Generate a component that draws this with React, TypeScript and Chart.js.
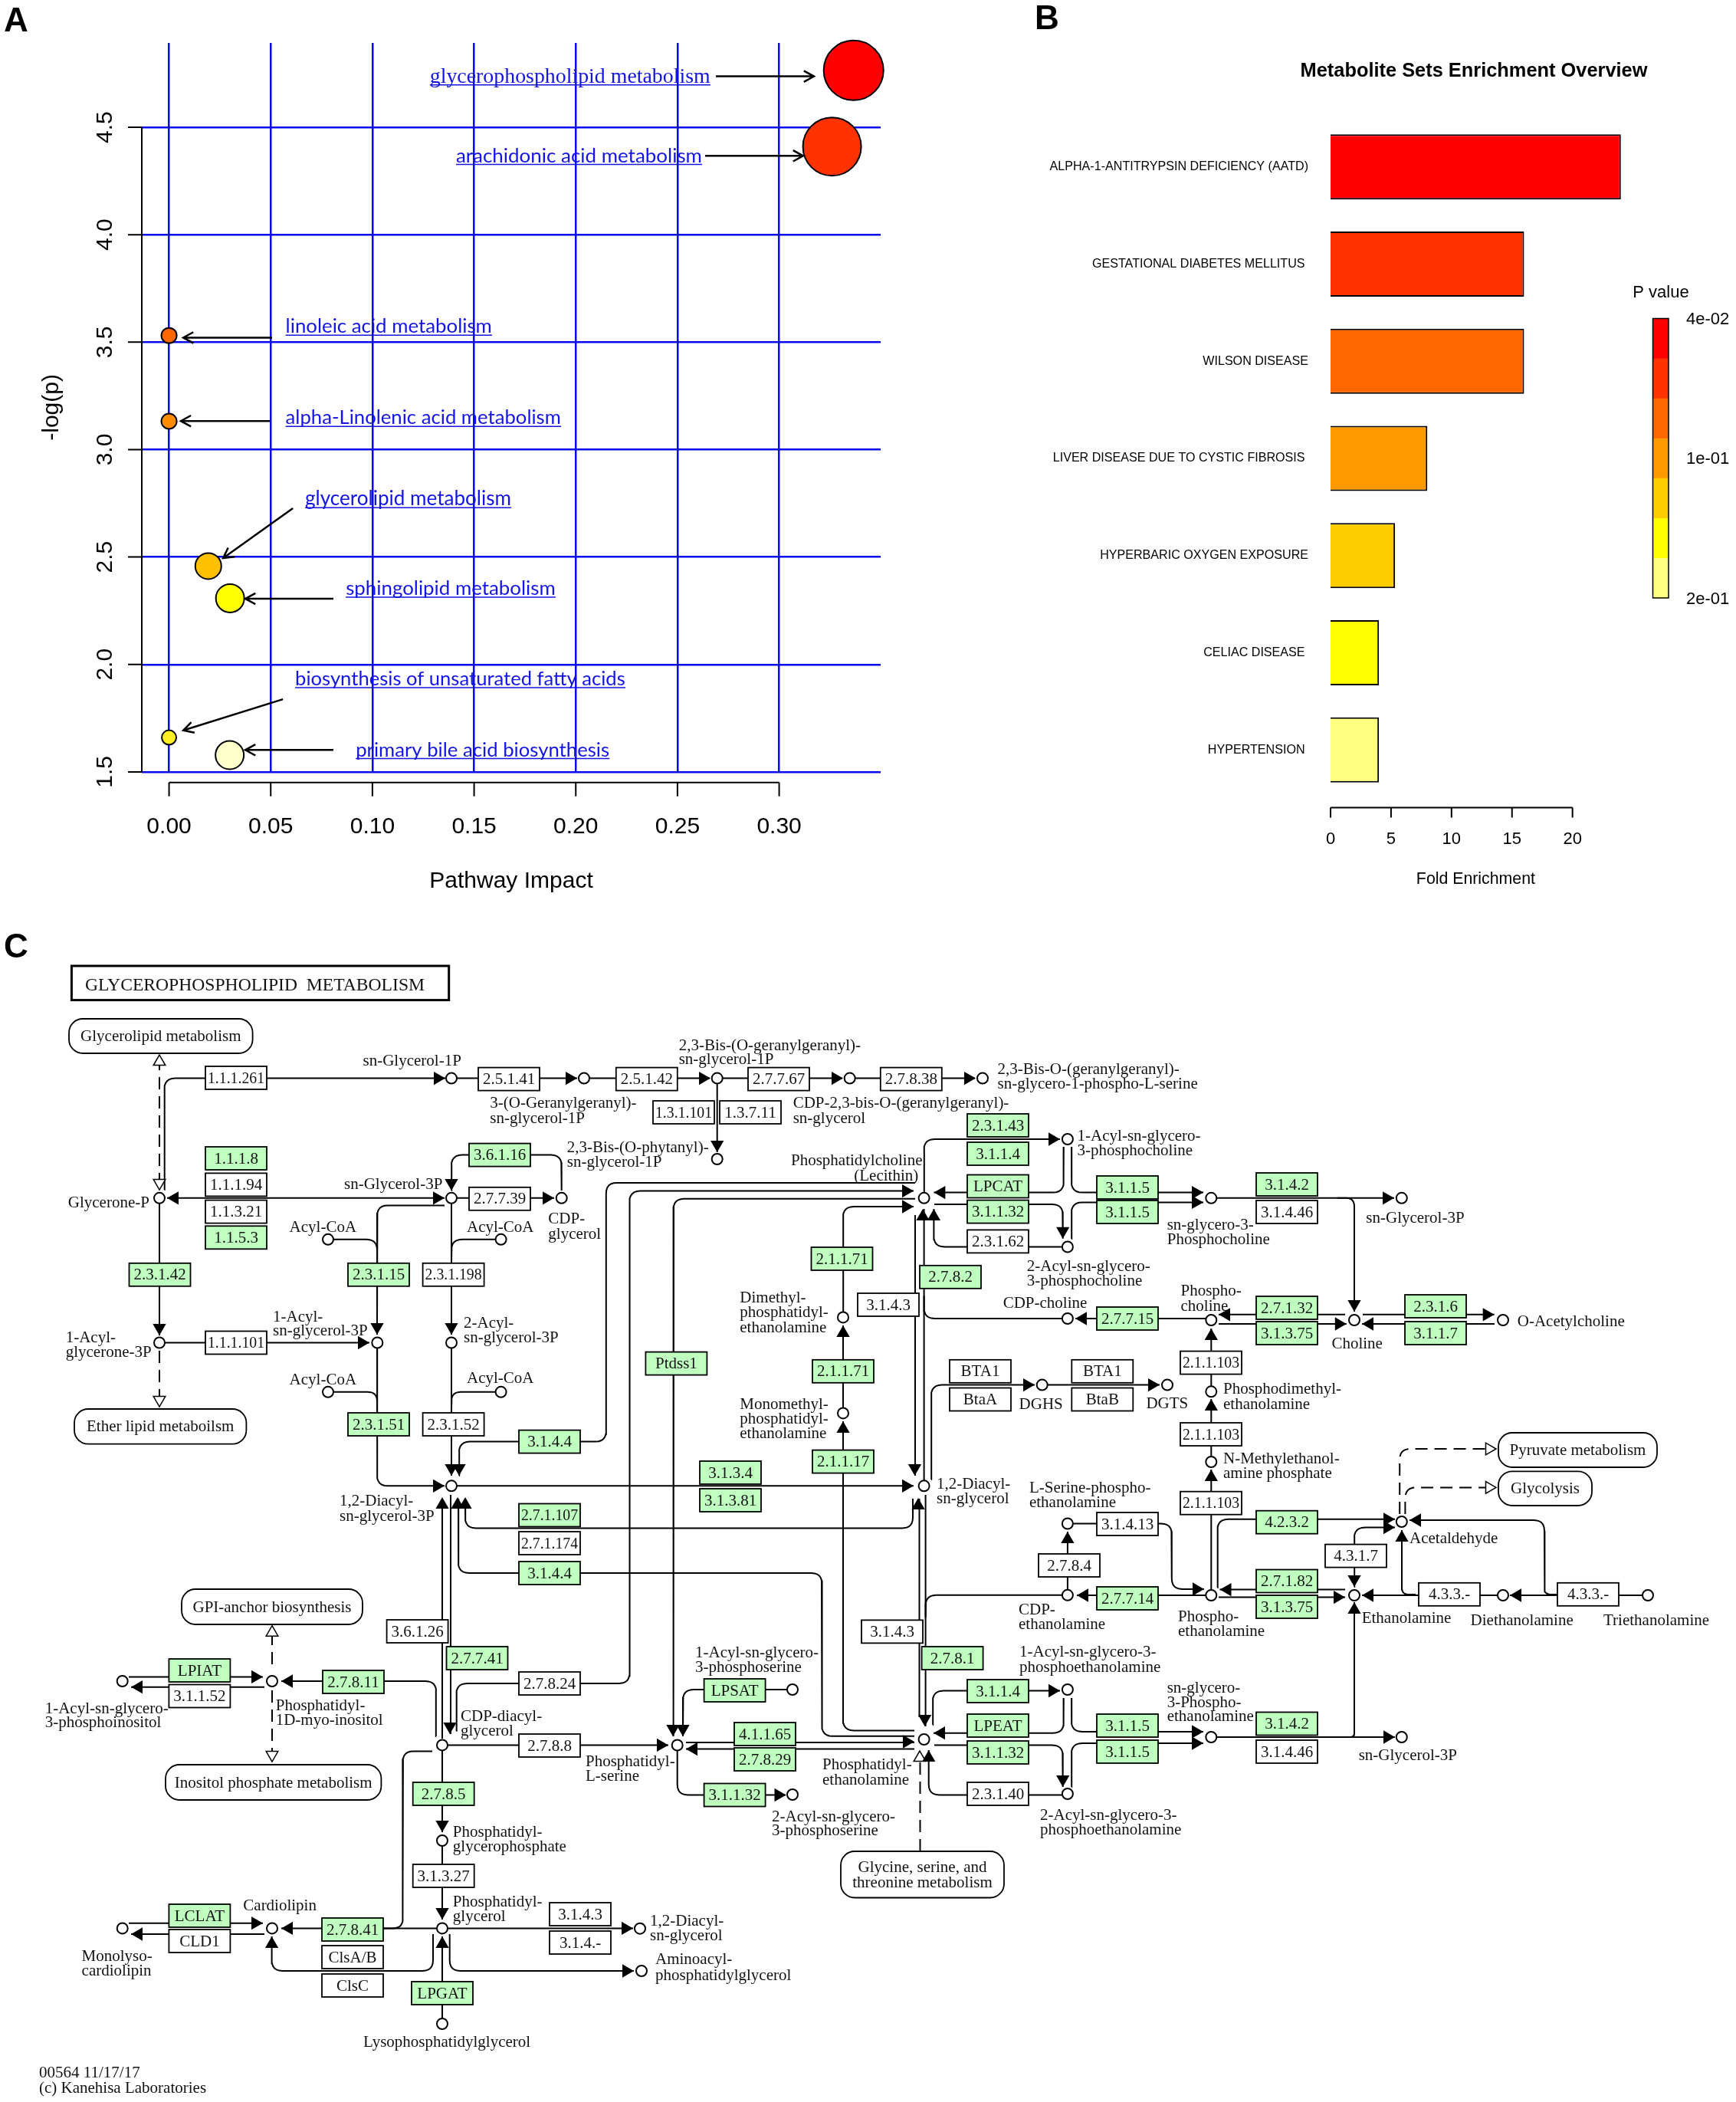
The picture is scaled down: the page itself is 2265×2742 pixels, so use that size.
import React, { useEffect, useRef } from "react";
import { Chart, registerables } from "chart.js";

Chart.register(...registerables);

// ---------- Panel A ----------
const pathwayImpact = [0.3366, 0.326, 0, 0, 0.0193, 0.03, 0, 0.0298];
const negLogP = [4.765, 4.41, 3.531, 3.132, 2.458, 2.308, 1.66, 1.578];
const bubbleRadius = [39, 38, 10, 10, 17, 18.5, 9.5, 18.5];
const bubbleColors = ["#FF0000", "#FF3300", "#FF6600", "#FF8C00", "#FFC000", "#FFFF00", "#FFEE22", "#FFFFCC"];
const impactTicks = [0, 0.05, 0.1, 0.15, 0.2, 0.25, 0.3];
const logPTicks = [1.5, 2, 2.5, 3, 3.5, 4, 4.5];
// text, x0, x1, underline y (data units), font
const pathwayLabels: [string, number, number, number, string][] = [
  ["glycerophospholipid metabolism", 0.1282, 0.2662, 4.697, "Liberation Serif"],
  ["arachidonic acid metabolism", 0.1411, 0.2621, 4.327, "Lato"],
  ["linoleic acid metabolism", 0.0573, 0.1588, 3.532, "Lato"],
  ["alpha-Linolenic acid metabolism", 0.0573, 0.1928, 3.108, "Lato"],
  ["glycerolipid metabolism", 0.0669, 0.1683, 2.73, "Lato"],
  ["sphingolipid metabolism", 0.0869, 0.1901, 2.313, "Lato"],
  ["biosynthesis of unsaturated fatty acids", 0.062, 0.2244, 1.892, "Lato"],
  ["primary bile acid biosynthesis", 0.0918, 0.2166, 1.562, "Lato"],
];
const pathwayArrows: [number, number, number, number][] = [
  [0.2689, 4.737, 0.3171, 4.737],
  [0.2636, 4.367, 0.3118, 4.367],
  [0.0507, 3.521, 0.007, 3.521],
  [0.0496, 3.133, 0.0058, 3.133],
  [0.0609, 2.727, 0.0266, 2.495],
  [0.0808, 2.306, 0.0375, 2.306],
  [0.056, 1.838, 0.007, 1.693],
  [0.0808, 1.602, 0.0375, 1.602],
];

// ---------- Panel B ----------
const diseases = [
  "ALPHA-1-ANTITRYPSIN DEFICIENCY (AATD)",
  "GESTATIONAL DIABETES MELLITUS ",
  "WILSON DISEASE",
  "LIVER DISEASE DUE TO CYSTIC FIBROSIS ",
  "HYPERBARIC OXYGEN EXPOSURE",
  "CELIAC DISEASE ",
  "HYPERTENSION ",
];
const foldEnrichment = [24, 16, 16, 8, 5.33, 4, 4];
const enrichColors = ["#FF0000", "#FF3300", "#FF6600", "#FF9900", "#FFCC00", "#FFFF00", "#FFFF80"];
const foldTicks = [0, 5, 10, 15, 20];
const pValueTicks = ["4e-02", "1e-01", "2e-01"];

// ---------- Panel C (KEGG map; coordinates are the map's own units) ----------
const enzymes: [string, number, number, number][] = [
  ["1.1.1.261",0,308,1406],["2.5.1.41",0,664,1407.6],["1.1.1.8",1,308,1511],["1.1.1.94",0,308,1545.4],
  ["1.1.3.21",0,308,1580.6],["1.1.5.3",1,308,1614.3],["3.6.1.16",1,652,1506.6],["2.7.7.39",0,652,1563.8],
  ["2.3.1.42",1,208.5,1662.8],["2.3.1.15",1,494,1662.8],["2.3.1.198",0,591.6,1662.8],["1.1.1.101",0,308,1751.5],
  ["2.3.1.51",1,494,1858],["2.3.1.52",0,591.6,1858],["3.1.4.4",1,717,1880.6],["2.7.1.107",1,717,1976.5],
  ["2.5.1.42",0,843.8,1407.6],["2.7.7.67",0,1016,1407.6],["2.7.8.38",0,1188.8,1407.6],["1.3.1.101",0,892,1451],
  ["1.3.7.11",0,979,1451],["2.3.1.43",1,1302,1468],["3.1.1.4",1,1302,1505],["LPCAT",1,1302,1547.5],
  ["3.1.1.32",1,1302,1580.6],["2.3.1.62",0,1302,1619.4],["3.1.1.5",1,1471,1549],["3.1.1.5",1,1471,1581],
  ["2.1.1.71",1,1098.5,1642],["2.7.8.2",1,1240,1665.8],["3.1.4.3",0,1159,1702],["2.7.7.15",1,1471,1720],
  ["BTA1",0,1279,1788.8],["BtaA",0,1279,1825.5],["BTA1",0,1438.3,1788.8],["BtaB",0,1438.3,1825.5],
  ["Ptdss1",1,882.4,1778.6],["2.1.1.71",1,1100,1788.8],["2.1.1.17",1,1100,1906.6],["3.1.3.4",1,953,1921],
  ["3.1.3.81",1,953,1957],["3.1.4.2",1,1679,1545],["3.1.4.46",0,1679,1581],["2.7.1.32",1,1679,1706],
  ["3.1.3.75",1,1679,1739],["2.3.1.6",1,1873,1704],["3.1.1.7",1,1873,1739],["2.1.1.103",0,1580,1777.6],
  ["2.1.1.103",0,1580,1871],["2.1.1.103",0,1580,1960.7],["4.2.3.2",1,1679,1985.7],["2.7.1.174",0,717,2013],
  ["3.1.4.4",1,717,2052],["3.6.1.26",0,544.6,2128],["2.7.7.41",1,622.5,2163],["LPIAT",1,260.4,2179],
  ["3.1.1.52",0,260.4,2212.5],["2.7.8.11",1,461,2194],["2.7.8.24",0,717,2196],["2.7.8.8",0,717,2277],
  ["2.7.8.5",1,578.7,2340],["3.1.3.27",0,578.7,2447],["LCLAT",1,260.4,2499],["CLD1",0,260.4,2532],
  ["2.7.8.41",1,460,2517],["ClsA/B",0,460,2553],["ClsC",0,460,2590],["3.1.4.3",0,757,2497],
  ["3.1.4.-",0,757,2534],["LPGAT",1,577,2600],["3.1.4.13",0,1471,1988],["2.7.8.4",0,1395,2042],
  ["2.7.7.14",1,1471,2085],["3.1.4.3",0,1164,2128.4],["2.7.8.1",1,1242.6,2163],["LPSAT",1,958.6,2205],
  ["3.1.1.4",1,1302,2206],["LPEAT",1,1302,2251],["3.1.1.32",1,1302,2286],["2.3.1.40",0,1302,2340],
  ["3.1.1.5",1,1471,2251],["3.1.1.5",1,1471,2285],["4.1.1.65",1,998,2262],["2.7.8.29",1,998,2295],
  ["3.1.1.32",1,958.6,2341.5],["3.1.4.2",1,1679,2248.5],["3.1.4.46",0,1679,2285],["2.7.1.82",1,1679,2062.5],
  ["3.1.3.75",1,1679,2096],["4.3.1.7",0,1769,2029.6],["4.3.3.-",0,1891,2079.8],["4.3.3.-",0,2072,2079.8],
];
const compounds: [number, number][] = [
  [589,1406.6],[762,1406.6],[208,1562.8],[589,1562.8],[732.7,1562.8],[428,1616.8],[653.6,1616.8],[208,1751.5],
  [492.3,1751.5],[589,1751.5],[428,1815.8],[653.6,1815.8],[589,1938.3],[935.7,1406.6],[1108.7,1406.6],[1282,1406.6],
  [935.7,1512],[1205.6,1562.8],[1392.9,1486],[1392.9,1626.5],[1100,1718.4],[1100,1843.4],[1392.9,1720],[1359.7,1806.6],
  [1523,1806.6],[1205.6,1938.3],[1580.3,1562.8],[1828.8,1562.8],[1580.3,1722],[1767,1722],[1961,1722],[1580.3,1815.3],
  [1580.3,1907],[1828.8,1985],[1392.9,1987.5],[1392.9,2080.8],[1392.9,2204],[1392.9,2340],[1205.6,2269],[883.7,2276.5],
  [1034,2204],[1034,2341],[835,2515.7],[837,2571],[577,2276.4],[355,2193],[159.7,2193],[577,2401],[577,2515.4],
  [355,2515.4],[159.7,2515.4],[577,2640],[1580.3,2081],[1767,2081],[1961,2081],[2150,2081],[1580.3,2266],[1828.8,2266],
];
type P = [number, number];
const reactionEdges: P[][] = [
  [[214.5,1552],[214.5,1406.6],[581,1406.6]],[[589,1406.6],[753,1406.6]],[[762,1406.6],[926,1406.6]],
  [[935.7,1406.6],[1099,1406.6]],[[1108.7,1406.6],[1272,1406.6]],[[935.7,1406.6],[935.7,1503]],
  [[218,1562.8],[580,1562.8]],[[208,1562.8],[208,1742]],[[208,1751.5],[482,1751.5]],
  [[589,1553],[589,1506.6],[732.7,1506.6],[732.7,1553]],[[589,1562.8],[723,1562.8]],
  [[580,1572.4],[492,1572.4],[492,1741]],[[428,1616.8],[492,1616.8],[492,1645]],[[589,1562.8],[589,1741]],
  [[653.6,1616.8],[589,1616.8],[589,1645]],[[492,1751.5],[492,1938.3],[580,1938.3]],
  [[428,1815.8],[492,1815.8],[492,1840]],[[653.6,1815.8],[589,1815.8],[589,1840]],[[589,1751.5],[589,1925]],
  [[599,1925],[599,1880.6],[790.8,1880.6],[790.8,1542.9],[1194,1542.9]],
  [[595.5,2258],[595.5,2196],[821.4,2196],[821.4,1553.6],[1192,1553.6]],
  [[577,2268],[577,1955]],[[588,1950],[588,2262]],
  [[598,1955],[598,2052],[1072.4,2052],[1072.4,2264.8],[1193,2264.8]],
  [[607,1955],[607,1993.5],[1191,1993.5],[1191,1955]],
  [[1199.5,1955],[1199.5,2240]],[[1207.6,1950],[1207.6,2252]],
  [[1392.9,2080.8],[1207.6,2080.8],[1207.6,2110]],
  [[1194,1585],[1194,1925]],[[1205.6,1938.3],[1205.6,1577]],
  [[1392.9,1720],[1205.6,1720],[1205.6,1690]],[[1580.3,1720],[1403,1720]],
  [[1215,1930],[1215,1806.6],[1350,1806.6]],[[1359.7,1806.6],[1513,1806.6]],
  [[1392.9,1626.5],[1218.4,1626.5],[1218.4,1577]],[[1219,1571],[1386.7,1571],[1386.7,1615.8]],
  [[1387.8,1496],[1387.8,1555.6],[1218.4,1555.6]],[[1205.6,1557],[1205.6,1486],[1383,1486]],
  [[1398,1496],[1398,1555.6],[1570,1555.6]],[[1398,1616],[1398,1568.4],[1570,1568.4]],
  [[1580.3,1562.8],[1819,1562.8]],[[1745,1562.8],[1767,1562.8],[1767,1711]],
  [[1755,1714.8],[1590,1714.8]],[[1590,1727],[1756.8,1727]],[[1778,1714.8],[1949.7,1714.8]],[[1950,1727],[1777,1727]],
  [[1580.3,1815.3],[1580.3,1733]],[[1580.3,1907],[1580.3,1825]],[[1580.3,2081],[1580.3,1917]],
  [[1588.5,2071],[1588.5,1981.8],[1820,1981.8]],[[1767,2070],[1767,1992.5],[1820,1992.5]],
  [[1847,2080],[1829,2080],[1829,1996]],[[1839,1983],[2015,1983],[2015,2080],[2032,2080]],
  [[2032,2081],[1970,2081]],[[1961,2081],[1777,2081]],[[2150,2081],[2112,2081]],
  [[1755,2073.6],[1591.5,2073.6]],[[1590,2083.6],[1755,2083.6]],
  [[1756,2266],[1767,2266],[1767,2090]],[[1580.3,2266],[1820,2266]],
  [[1398,2215],[1398,2259],[1570,2259]],[[1398,2331],[1398,2274],[1570,2274]],
  [[1387.8,2215],[1387.8,2260.7],[1218,2260.7]],[[1219,2276.5],[1386.7,2276.5],[1386.7,2331]],
  [[1217,2250],[1217,2205.5],[1383,2205.5]],[[1392.9,2341.5],[1211.7,2341.5],[1211.7,2283]],
  [[1193,2257.4],[1100,2257.4],[1100,1854]],[[1100,1843.4],[1100,1729]],[[1100,1718],[1100,1574],[1192,1574]],
  [[1194,1563.8],[878.6,1563.8],[878.6,2265]],[[1027,2204],[891,2204],[891,2265]],[[577,2276.4],[872,2276.4]],
  [[895,2273],[1193,2273]],[[1193,2281.5],[895,2281.5]],[[883.7,2276.5],[883.7,2341.5],[1025,2341.5]],
  [[589,1938.3],[1192,1938.3]],[[1392.9,1987.5],[1528.8,1987.5],[1528.8,2073],[1571,2073]],
  [[1580.3,2081],[1405,2081]],[[1392.9,2080.8],[1392.9,1998]],[[569,2265],[569,2193],[367,2193]],
  [[168,2187.4],[343,2187.4]],[[345,2200.7],[171,2200.7]],
  [[564,2284.4],[525.5,2284.4],[525.5,2515.4],[500,2515.4]],[[577,2515.4],[367,2515.4]],
  [[577,2276.4],[577,2390]],[[577,2401],[577,2504]],[[577,2640],[577,2526]],
  [[565,2523],[565,2571],[354.6,2571],[354.6,2526]],[[586.7,2523],[586.7,2571],[827,2571]],
  [[577,2515.4],[826,2515.4]],[[168,2508.7],[343,2508.7]],[[345,2523],[171,2523]],
];
const dashedEdges: P[][] = [
  [[208,1380],[208,1545]],[[208,1762],[208,1825]],[[355,2130],[355,2180]],[[355,2205],[355,2285]],
  [[1200.5,2415],[1200.5,2295]],[[1826.2,1975],[1826.2,1890],[1945,1890]],[[1833.4,1975],[1833.4,1940.4],[1945,1940.4]],
];
// tip x, tip y, direction in degrees (0 up, 90 right, 180 down, 270 left)
const solidArrows: [number, number, number][] = [
  [581,1406.6,90],[753,1406.6,90],[927,1406.6,90],[1100,1406.6,90],[1273,1406.6,90],[935.7,1503,180],
  [218,1562.8,270],[580,1562.8,90],[208,1742,180],[482,1751.5,90],[589,1553,180],[723,1562.8,90],
  [492,1741,180],[589,1741,180],[580,1938.3,90],[589,1925,180],[599,1925,180],[1192,1553.6,90],
  [577,1953,0],[597,1953,0],[607,1953,0],[587,2262,180],[1193,2272,90],[1198,1954,0],[1206.6,2252,180],
  [1193.5,1925,180],[1204,1577,0],[1403,1720,270],[1350,1806.6,90],[1513,1806.6,90],[1218.4,1577,0],
  [1386.7,1615.8,180],[1218.4,1555.6,270],[1383,1486,90],[1570,1555.6,90],[1570,1568.4,90],[1819,1562.8,90],
  [1767,1711,180],[1590,1714.8,270],[1756.8,1727,90],[1949.7,1714.8,90],[1777,1727,270],[1580.3,1733,0],
  [1580.3,1825,0],[1580.3,1917,0],[1820,1981.8,90],[1820,1992.5,90],[1767,2070,180],[1829,1996,0],
  [1839,1983,270],[1970,2081,270],[1777,2081,270],[1591.5,2073.6,270],[1755,2083.6,90],[1767,2090,0],
  [1820,2266,90],[1570,2259,90],[1570,2274,90],[1218,2260.7,270],[1386.7,2331,180],[1383,2205.5,90],
  [1211.7,2283,0],[1100,1854,0],[1100,1729,0],[1192,1574,90],[878,2265,180],[891,2265,180],[872,2276.4,90],
  [895,2281.5,270],[1025.5,2341.5,90],[1192,1938.3,90],[1571,2073,90],[1405,2081,270],[1392.9,1998,0],
  [367,2193,270],[343,2187.4,90],[171,2200.7,270],[367,2515.4,270],[577,2390,180],[577,2504,180],[577,2526,0],
  [354.6,2526,0],[827,2571,90],[826,2515.4,90],[343,2508.7,90],[171,2523,270],
];
const openArrows: [number, number, number][] = [
  [208,1376,0],[208,1552,180],[208,1835,180],[355,2120.7,0],[355,2298,180],[1200,2284,0],[1952,1890,90],[1952,1940.4,90],
];
// x0, x1, y0, y1, text lines
const mapBoxes: [number, number, number, number, string[]][] = [
  [90,329.6,1329,1374,["Glycerolipid metabolism"]],[97,321.4,1838,1883.7,["Ether lipid metaboilsm"]],
  [237,473,2073,2119,["GPI-anchor biosynthesis"]],[216,497.4,2302,2348,["Inositol phosphate metabolism"]],
  [1097,1310,2415,2475.5,["Glycine, serine, and","threonine metabolism"]],[1955,2162,1869,1914,["Pyruvate metabolism"]],
  [1955,2077,1919.4,1964,["Glycolysis"]],
];
const compoundLabels: [string, number, number][] = [
  ["sn-Glycerol-1P",473.5,1382.6],["3-(O-Geranylgeranyl)-",639.3,1438],["sn-glycerol-1P",639.3,1457.6],
  ["2,3-Bis-(O-phytanyl)-",739.8,1496],["sn-glycerol-1P",739.8,1515],["Glycerone-P",88.8,1568],
  ["sn-Glycerol-3P",449,1544.4],["CDP-",715.3,1589],["glycerol",715.3,1608.7],["Acyl-CoA",377.6,1599.5],
  ["Acyl-CoA",609,1599.5],["1-Acyl-",85.7,1744],["glycerone-3P",85.7,1763],["1-Acyl-",356,1716.8],
  ["sn-glycerol-3P",356,1735],["2-Acyl-",605,1725],["sn-glycerol-3P",605,1744],["Acyl-CoA",377.6,1798.5],
  ["Acyl-CoA",609,1797],["1,2-Diacyl-",443,1957],["sn-glycerol-3P",443,1976.5],
  ["2,3-Bis-(O-geranylgeranyl)-",885.7,1363],["sn-glycerol-1P",885.7,1381],
  ["2,3-Bis-O-(geranylgeranyl)-",1301.5,1394],["sn-glycero-1-phospho-L-serine",1301.5,1413],
  ["CDP-2,3-bis-O-(geranylgeranyl)-",1034.7,1438],["sn-glycerol",1034.7,1457.6],
  ["1-Acyl-sn-glycero-",1405.6,1480.6],["3-phosphocholine",1405.6,1499.5],
  ["Phosphatidylcholine",1032,1512.8],["(Lecithin)",1114.3,1532.6],
  ["2-Acyl-sn-glycero-",1339.8,1651],["3-phosphocholine",1339.8,1670],
  ["sn-glycero-3-",1522.7,1597],["Phosphocholine",1522.7,1615.8],["CDP-choline",1308.7,1698.5],
  ["Dimethyl-",965.3,1692],["phosphatidyl-",965.3,1711],["ethanolamine",965.3,1730.6],
  ["Monomethyl-",965.3,1830.6],["phosphatidyl-",965.3,1850],["ethanolamine",965.3,1869],
  ["DGHS",1329.6,1831],["DGTS",1495.4,1830],["1,2-Diacyl-",1222,1935],["sn-glycerol",1222,1953.6],
  ["L-Serine-phospho-",1342.9,1940],["ethanolamine",1342.9,1959],["sn-Glycerol-3P",1782.3,1587.8],
  ["Phospho-",1540.5,1683],["choline",1540.5,1702.5],["Choline",1737.4,1752],["O-Acetylcholine",1979.8,1723],
  ["Phosphodimethyl-",1596,1811],["ethanolamine",1596,1830.6],["N-Methylethanol-",1596,1902],["amine phosphate",1596,1921],
  ["Acetaldehyde",1839,2006],["Phospho-",1537,2108],["ethanolamine",1537,2127],["Ethanolamine",1776.7,2110],
  ["Diethanolamine",1918.6,2113],["Triethanolamine",2092,2113],["sn-glycero-",1522.7,2200.7],["3-Phospho-",1522.7,2219.8],
  ["ethanolamine",1522.7,2237.8],["sn-Glycerol-3P",1772.7,2289],["CDP-",1329,2099],["ethanolamine",1329,2118],
  ["1-Acyl-sn-glycero-3-",1330,2154],["phosphoethanolamine",1330,2173.6],["1-Acyl-sn-glycero-",907,2155],
  ["3-phosphoserine",907,2173.6],["Phosphatidyl-",764,2296.8],["L-serine",764,2315.8],["Phosphatidyl-",1073,2301],
  ["ethanolamine",1073,2320.8],["2-Acyl-sn-glycero-",1007,2368.5],["3-phosphoserine",1007,2387],
  ["2-Acyl-sn-glycero-3-",1357,2367],["phosphoethanolamine",1357,2386],["1,2-Diacyl-",848,2505],["sn-glycerol",848,2524],
  ["Aminoacyl-",855,2555],["phosphatidylglycerol",855,2576],["1-Acyl-sn-glycero-",58.7,2228],["3-phosphoinositol",58.7,2246],
  ["Phosphatidyl-",359.7,2224],["1D-myo-inositol",359.7,2243],["CDP-diacyl-",601,2237.6],["glycerol",601,2257],
  ["Phosphatidyl-",590.8,2388.5],["glycerophosphate",590.8,2407.5],["Phosphatidyl-",590.8,2480],["glycerol",590.8,2499],
  ["Cardiolipin",317.3,2485],["Monolyso-",106.6,2551],["cardiolipin",106.6,2570],["Lysophosphatidylglycerol",474,2662.6],
  ["00564 11/17/17",51,2702.8],["(c) Kanehisa Laboratories",51,2722.7],
];

const SANS = '"Liberation Sans", Arial, sans-serif';
const SERIF = '"Liberation Serif", serif';
const GRID_BLUE = "#0a0af0";

function roundCorners(pts: P[], r = 14) {
  const out: { x: number; y: number }[] = [{ x: pts[0][0], y: pts[0][1] }];
  for (let i = 1; i < pts.length - 1; i++) {
    const [ax, ay] = pts[i - 1], [bx, by] = pts[i], [cx, cy] = pts[i + 1];
    const d1 = Math.hypot(bx - ax, by - ay), d2 = Math.hypot(cx - bx, cy - by);
    const rr = Math.min(r, d1 / 2, d2 / 2);
    const sx = bx + ((ax - bx) / d1) * rr, sy = by + ((ay - by) / d1) * rr;
    const ex = bx + ((cx - bx) / d2) * rr, ey = by + ((cy - by) / d2) * rr;
    for (let k = 0; k <= 6; k++) {
      const t = k / 6, u = 1 - t;
      out.push({ x: u * u * sx + 2 * u * t * bx + t * t * ex, y: u * u * sy + 2 * u * t * by + t * t * ey });
    }
  }
  const last = pts[pts.length - 1];
  out.push({ x: last[0], y: last[1] });
  return out;
}

function letter(ctx: CanvasRenderingContext2D, t: string, x: number, y: number) {
  ctx.save();
  ctx.font = `bold 44px ${SANS}`;
  ctx.fillStyle = "#000";
  ctx.textAlign = "left";
  ctx.textBaseline = "alphabetic";
  ctx.fillText(t, x, y);
  ctx.restore();
}

const panelAPlugin = {
  id: "panelA",
  afterDraw(chart: any) {
    const { ctx, scales: { x, y } } = chart;
    ctx.save();
    letter(ctx, "A", 5, 41);
    // R-style detached axes
    ctx.strokeStyle = "#000";
    ctx.lineWidth = 2;
    const ax = 185, ay = 1020.7;
    ctx.beginPath();
    ctx.moveTo(ax, y.getPixelForValue(logPTicks[0]));
    ctx.lineTo(ax, y.getPixelForValue(logPTicks[logPTicks.length - 1]));
    logPTicks.forEach((v) => {
      ctx.moveTo(ax, y.getPixelForValue(v));
      ctx.lineTo(ax - 18, y.getPixelForValue(v));
    });
    ctx.moveTo(x.getPixelForValue(impactTicks[0]), ay);
    ctx.lineTo(x.getPixelForValue(impactTicks[impactTicks.length - 1]), ay);
    impactTicks.forEach((v) => {
      ctx.moveTo(x.getPixelForValue(v), ay);
      ctx.lineTo(x.getPixelForValue(v), ay + 18);
    });
    ctx.stroke();
    // Labels
    pathwayLabels.forEach(([t, x0, x1, yy, fam]) => {
      const l = x.getPixelForValue(x0), r = x.getPixelForValue(x1), b = y.getPixelForValue(yy);
      ctx.font = `100px "${fam}"`;
      const size = (100 * (r - l)) / ctx.measureText(t).width;
      ctx.font = `${size}px "${fam}"`;
      ctx.fillStyle = "#1414e6";
      ctx.textAlign = "left";
      ctx.textBaseline = "alphabetic";
      ctx.fillText(t, l, b - 3);
      ctx.strokeStyle = "#1414e6";
      ctx.lineWidth = 1.5;
      ctx.beginPath();
      ctx.moveTo(l, b);
      ctx.lineTo(r, b);
      ctx.stroke();
    });
    // Arrows
    ctx.strokeStyle = "#000";
    ctx.lineWidth = 2.5;
    pathwayArrows.forEach(([a, b, c, d]) => {
      const px0 = x.getPixelForValue(a), py0 = y.getPixelForValue(b);
      const px1 = x.getPixelForValue(c), py1 = y.getPixelForValue(d);
      const ang = Math.atan2(py1 - py0, px1 - px0);
      ctx.beginPath();
      ctx.moveTo(px0, py0);
      ctx.lineTo(px1, py1);
      ctx.moveTo(px1 - 15 * Math.cos(ang - 0.5), py1 - 15 * Math.sin(ang - 0.5));
      ctx.lineTo(px1, py1);
      ctx.lineTo(px1 - 15 * Math.cos(ang + 0.5), py1 - 15 * Math.sin(ang + 0.5));
      ctx.stroke();
    });
    ctx.restore();
  },
};

const panelBPlugin = {
  id: "panelB",
  afterDraw(chart: any) {
    const { ctx, scales: { x } } = chart;
    ctx.save();
    letter(ctx, "B", 170, 38);
    ctx.fillStyle = "#000";
    ctx.font = `bold 25.4px ${SANS}`;
    ctx.textAlign = "center";
    ctx.textBaseline = "middle";
    ctx.fillText("Metabolite Sets Enrichment Overview", 743, 92.5);
    // Axis
    ctx.strokeStyle = "#000";
    ctx.lineWidth = 2;
    const ay = 1053.6;
    ctx.beginPath();
    ctx.moveTo(x.getPixelForValue(foldTicks[0]), ay);
    ctx.lineTo(x.getPixelForValue(foldTicks[foldTicks.length - 1]), ay);
    foldTicks.forEach((v) => {
      ctx.moveTo(x.getPixelForValue(v), ay);
      ctx.lineTo(x.getPixelForValue(v), ay + 13);
    });
    ctx.stroke();
    // P value colour key
    const lx = 976.5, lw = 20.5, top = 415.5, bottom = 780;
    const seg = (bottom - top) / enrichColors.length;
    enrichColors.forEach((c, i) => {
      ctx.fillStyle = c;
      ctx.fillRect(lx, top + i * seg, lw, seg + 0.5);
    });
    ctx.lineWidth = 1.5;
    ctx.strokeRect(lx, top, lw, bottom - top);
    ctx.fillStyle = "#000";
    ctx.font = `22px ${SANS}`;
    ctx.textAlign = "center";
    ctx.fillText("P value", 987, 381.5);
    ctx.textAlign = "left";
    pValueTicks.forEach((t, i) => {
      ctx.fillText(t, 1020, top + 1.5 + (i * (bottom - top)) / (pValueTicks.length - 1));
    });
    ctx.restore();
  },
};

const panelCPlugin = {
  id: "panelC",
  afterDatasetsDraw(chart: any) {
    const { ctx, scales: { x, y } } = chart;
    const X = (v: number) => x.getPixelForValue(v), Y = (v: number) => y.getPixelForValue(v);
    ctx.save();
    letter(ctx, "C", 5, 48.5);
    ctx.textBaseline = "middle";
    ctx.strokeStyle = "#000";
    // Title box
    ctx.lineWidth = 3;
    ctx.fillStyle = "#fff";
    ctx.fillRect(X(93.4), Y(1260), 492.3, 44.6);
    ctx.strokeRect(X(93.4), Y(1260), 492.3, 44.6);
    ctx.fillStyle = "#111";
    ctx.font = `23.7px ${SERIF}`;
    ctx.textAlign = "left";
    ctx.fillText("GLYCEROPHOSPHOLIPID  METABOLISM", X(111), Y(1285.5), 443);
    // Enzymes
    ctx.lineWidth = 1.8;
    ctx.font = `21px ${SERIF}`;
    ctx.textAlign = "center";
    enzymes.forEach(([t, g, cx, cy]) => {
      ctx.fillStyle = g ? "#BFFFBF" : "#fff";
      ctx.fillRect(X(cx) - 40, Y(cy) - 15, 80, 30);
      ctx.strokeRect(X(cx) - 40, Y(cy) - 15, 80, 30);
      ctx.fillStyle = "#111";
      ctx.fillText(t, X(cx), Y(cy) + 1, 74);
    });
    // Linked maps
    mapBoxes.forEach(([x0, x1, y0, y1, lines]) => {
      ctx.beginPath();
      ctx.roundRect(X(x0), Y(y0), x1 - x0, y1 - y0, 18);
      ctx.fillStyle = "#fff";
      ctx.fill();
      ctx.stroke();
      ctx.fillStyle = "#111";
      lines.forEach((l, i) => {
        ctx.fillText(l, X((x0 + x1) / 2), Y((y0 + y1) / 2 + 1 + (i - (lines.length - 1) / 2) * 19.5), x1 - x0 - 12);
      });
    });
    // Compound names
    ctx.textAlign = "left";
    ctx.font = `21px ${SERIF}`;
    compoundLabels.forEach(([t, lx, ly]) => ctx.fillText(t, X(lx), Y(ly) + 1.5));
    ctx.restore();
  },
};

const arrowCenters = (list: [number, number, number][], r: number) =>
  list.map(([x, y, d]) => {
    const a = (d * Math.PI) / 180;
    return { x: x - Math.sin(a) * r, y: y + Math.cos(a) * r };
  });

export default function App() {
  const a = useRef<HTMLCanvasElement>(null);
  const b = useRef<HTMLCanvasElement>(null);
  const c = useRef<HTMLCanvasElement>(null);

  useEffect(() => {
    document.body.style.margin = "0";
    document.body.style.background = "#fff";
    const chartA = new Chart(a.current!, {
      type: "bubble",
      plugins: [panelAPlugin],
      data: {
        datasets: [{
          data: pathwayImpact.map((v, i) => ({ x: v, y: negLogP[i], r: bubbleRadius[i] })),
          backgroundColor: bubbleColors,
          borderColor: "#000",
          borderWidth: 2,
          clip: false,
        } as any],
      },
      options: {
        animation: false, responsive: false, devicePixelRatio: 1,
        layout: { autoPadding: false, padding: { top: 55.9, right: 31, left: 0, bottom: 0 } },
        plugins: { legend: { display: false }, tooltip: { enabled: false } },
        scales: {
          x: {
            type: "linear", min: -0.0134, max: 0.3499,
            afterBuildTicks: (s: any) => { s.ticks = impactTicks.map((value) => ({ value })); },
            afterFit: (s: any) => { s.height = 193.1; },
            grid: { color: GRID_BLUE, lineWidth: 2.5, drawTicks: false },
            border: { display: false },
            ticks: { color: "#000", font: { family: SANS, size: 30 }, padding: 54, maxRotation: 0, autoSkip: false, callback: (v: any) => Number(v).toFixed(2) },
            title: { display: true, text: "Pathway Impact", color: "#000", font: { family: SANS, size: 30 }, padding: { top: 0, bottom: 32 } },
          },
          y: {
            type: "linear", min: 1.5, max: 4.893,
            afterBuildTicks: (s: any) => { s.ticks = logPTicks.map((value) => ({ value })); },
            afterFit: (s: any) => { s.width = 185; },
            grid: { color: GRID_BLUE, lineWidth: 2.5, drawTicks: false },
            border: { display: false },
            ticks: { color: "#000", font: { family: SANS, size: 30 }, padding: 26, minRotation: 90, maxRotation: 90, crossAlign: "center", autoSkip: false, callback: (v: any) => Number(v).toFixed(1) },
            title: { display: true, text: "-log(p)", color: "#000", font: { family: SANS, size: 30 }, padding: { top: 50, bottom: 0 } },
          },
        },
      } as any,
    });

    const chartB = new Chart(b.current!, {
      type: "bar",
      plugins: [panelBPlugin],
      data: {
        labels: diseases,
        datasets: [{
          data: foldEnrichment,
          backgroundColor: enrichColors,
          borderColor: "#000",
          borderWidth: 2,
          categoryPercentage: 1,
          barPercentage: 0.67,
          clip: false,
        } as any],
      },
      options: {
        indexAxis: "y",
        animation: false, responsive: false, devicePixelRatio: 1,
        layout: { autoPadding: false, padding: { top: 154.3, right: 150.2, left: 0, bottom: 0 } },
        plugins: { legend: { display: false }, tooltip: { enabled: false } },
        scales: {
          x: {
            type: "linear", min: 0, max: 24,
            afterBuildTicks: (s: any) => { s.ticks = foldTicks.map((value) => ({ value })); },
            afterFit: (s: any) => { s.height = 158.3; },
            grid: { display: false, drawTicks: false },
            border: { display: false },
            ticks: { color: "#000", font: { family: SANS, size: 22 }, padding: 40, maxRotation: 0, autoSkip: false },
            title: { display: true, text: "Fold Enrichment", color: "#000", font: { family: SANS, size: 21.3 }, padding: { top: 0, bottom: 40 } },
          },
          y: {
            afterFit: (s: any) => { s.width = 556; },
            grid: { display: false, drawTicks: false },
            border: { display: false },
            ticks: { color: "#000", font: { family: SANS, size: 16.1 }, padding: 29, autoSkip: false },
          },
        },
      } as any,
    });

    const chartC = new Chart(c.current!, {
      type: "scatter",
      plugins: [panelCPlugin],
      data: {
        datasets: [
          {
            data: compounds.map(([x, y]) => ({ x, y })),
            pointStyle: "circle", pointRadius: 7, backgroundColor: "#fff", borderColor: "#000", borderWidth: 2, order: 0,
          },
          {
            data: arrowCenters(solidArrows, 10),
            pointStyle: "triangle", pointRadius: 10, pointRotation: solidArrows.map((s) => s[2]),
            backgroundColor: "#000", borderColor: "#000", borderWidth: 0, order: 1,
          },
          {
            data: arrowCenters(openArrows, 9),
            pointStyle: "triangle", pointRadius: 9, pointRotation: openArrows.map((s) => s[2]),
            backgroundColor: "#fff", borderColor: "#000", borderWidth: 1.5, order: 1,
          },
          ...reactionEdges.map((e) => ({
            data: roundCorners(e), showLine: true, pointRadius: 0, borderColor: "#000", borderWidth: 2, order: 2,
          })),
          ...dashedEdges.map((e) => ({
            data: roundCorners(e), showLine: true, pointRadius: 0, borderColor: "#000", borderWidth: 2, borderDash: [16, 9], order: 2,
          })),
        ] as any,
      },
      options: {
        animation: false, responsive: false, devicePixelRatio: 1,
        layout: { autoPadding: false },
        plugins: { legend: { display: false }, tooltip: { enabled: false } },
        scales: {
          x: { type: "linear", min: 0, max: 2265, display: false },
          y: { type: "linear", min: 1200, max: 2742, reverse: true, display: false },
        },
      } as any,
    });

    return () => {
      chartA.destroy();
      chartB.destroy();
      chartC.destroy();
    };
  }, []);

  return (
    <div style={{ position: "relative", width: 2265, height: 2742, background: "#fff", overflow: "hidden" }}>
      <canvas ref={a} width={1180} height={1200} style={{ position: "absolute", left: 0, top: 0 }} />
      <canvas ref={b} width={1085} height={1200} style={{ position: "absolute", left: 1180, top: 0 }} />
      <canvas ref={c} width={2265} height={1542} style={{ position: "absolute", left: 0, top: 1200 }} />
    </div>
  );
}
